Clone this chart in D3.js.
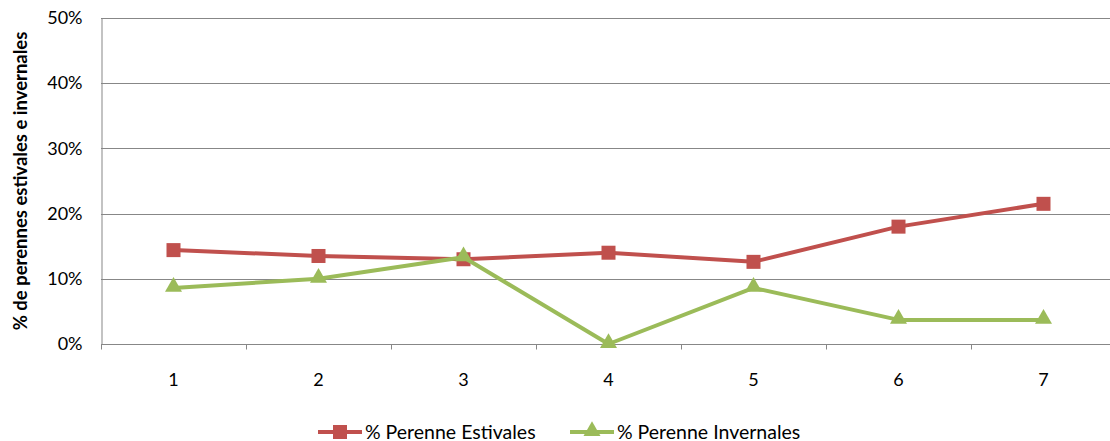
<!DOCTYPE html>
<html>
<head>
<meta charset="utf-8">
<script src="https://cdn.jsdelivr.net/npm/d3@7"></script>
<style>
  html, body { margin: 0; padding: 0; background: #fff; }
  svg { display: block; font-family: Lato, "Open Sans", sans-serif; }
</style>
</head>
<body>
<svg id="chart" width="1110" height="441"></svg>
<script>
// Sample sites along the x axis
const categories = ["1", "2", "3", "4", "5", "6", "7"];
// Share of summer perennials per site
const estivales = [0.144, 0.135, 0.130, 0.140, 0.126, 0.180, 0.215];
// Share of winter perennials per site
const invernales = [0.086, 0.100, 0.133, 0.000, 0.086, 0.037, 0.037];
// Y axis tick values
const yTicks = [0, 0.1, 0.2, 0.3, 0.4, 0.5];

const seriesNames = ["% Perenne Estivales", "% Perenne Invernales"];
const colors = ["#C0504D", "#9BBB59"];

const svg = d3.select("#chart");
const margin = { left: 101, top: 18, right: -6, bottom: 97 };
const W = 1110, H = 441;
const fs = 18;

const x = d3.scaleBand().domain(categories).range([margin.left, W - margin.right]);
const y = d3.scaleLinear().domain([0, 0.5]).range([H - margin.bottom, margin.top]);

const grid = "#878787";

// Horizontal gridlines
svg.append("g").selectAll("line").data(yTicks.filter(d => d > 0)).join("line")
  .attr("x1", margin.left).attr("x2", W)
  .attr("y1", d => Math.round(y(d)) + 0.5).attr("y2", d => Math.round(y(d)) + 0.5)
  .attr("stroke", grid).attr("stroke-width", 1);

// Y axis
const yAxis = svg.append("g")
  .attr("transform", `translate(${margin.left + 0.5},0)`)
  .call(d3.axisLeft(y).tickValues(yTicks).tickFormat(d3.format(".0%")).tickSize(0).tickPadding(19));
yAxis.select(".domain").attr("stroke", grid);
yAxis.selectAll("text").attr("font-size", fs).attr("fill", "#000").attr("font-family", "Lato, sans-serif");

// X axis with tick marks between categories
const xAxisG = svg.append("g").attr("transform", `translate(0,${Math.round(y(0)) + 0.5})`);
xAxisG.append("line").attr("x1", margin.left).attr("x2", W).attr("stroke", grid);
const bounds = d3.range(categories.length + 1).map(i => margin.left + i * x.step());
xAxisG.selectAll("line.tick").data(bounds).join("line").attr("class", "tick")
  .attr("x1", d => Math.round(d) + 0.5).attr("x2", d => Math.round(d) + 0.5)
  .attr("y1", 0).attr("y2", 5).attr("stroke", grid);
xAxisG.selectAll("text").data(categories).join("text")
  .attr("x", d => x(d) + x.bandwidth() / 2).attr("y", 41)
  .attr("text-anchor", "middle").attr("font-size", fs).attr("fill", "#000")
  .text(d => d);

// Y axis title
svg.append("text")
  .attr("transform", `translate(27,${(y(0) + y(0.5)) / 2}) rotate(-90)`)
  .attr("text-anchor", "middle").attr("font-size", fs + 0.5).attr("font-weight", "bold")
  .attr("fill", "#000")
  .text("% de perennes estivales e invernales");

const cx = d => x(d) + x.bandwidth() / 2;
const line = d3.line().x((v, i) => cx(categories[i])).y(v => y(v));

const triangle = d3.symbol().type(d3.symbolTriangle).size(125);

function marker(g, kind, color) {
  if (kind === 0) {
    g.append("rect").attr("x", -7).attr("y", -7).attr("width", 14).attr("height", 14)
      .attr("fill", color);
  } else {
    g.append("path").attr("d", triangle()).attr("transform", "translate(0,-1)").attr("fill", color);
  }
}

[estivales, invernales].forEach((vals, si) => {
  svg.append("path").datum(vals).attr("d", line)
    .attr("fill", "none").attr("stroke", colors[si]).attr("stroke-width", 4)
    .attr("stroke-linejoin", "round");
  svg.append("g").selectAll("g").data(vals).join("g")
    .attr("transform", (v, i) => `translate(${cx(categories[i])},${y(v)})`)
    .each(function () { marker(d3.select(this), si, colors[si]); });
});

// Legend
const legendX = [318, 570];
seriesNames.forEach((name, si) => {
  const g = svg.append("g").attr("transform", `translate(${legendX[si]},432)`);
  g.append("line").attr("x1", 0).attr("x2", 44).attr("stroke", colors[si]).attr("stroke-width", 4);
  const m = g.append("g").attr("transform", "translate(22,0)");
  marker(m, si, colors[si]);
  g.append("text").attr("x", 47).attr("y", 6.5).attr("font-size", fs + 1.5).attr("fill", "#000").text(name);
});
</script>
</body>
</html>
